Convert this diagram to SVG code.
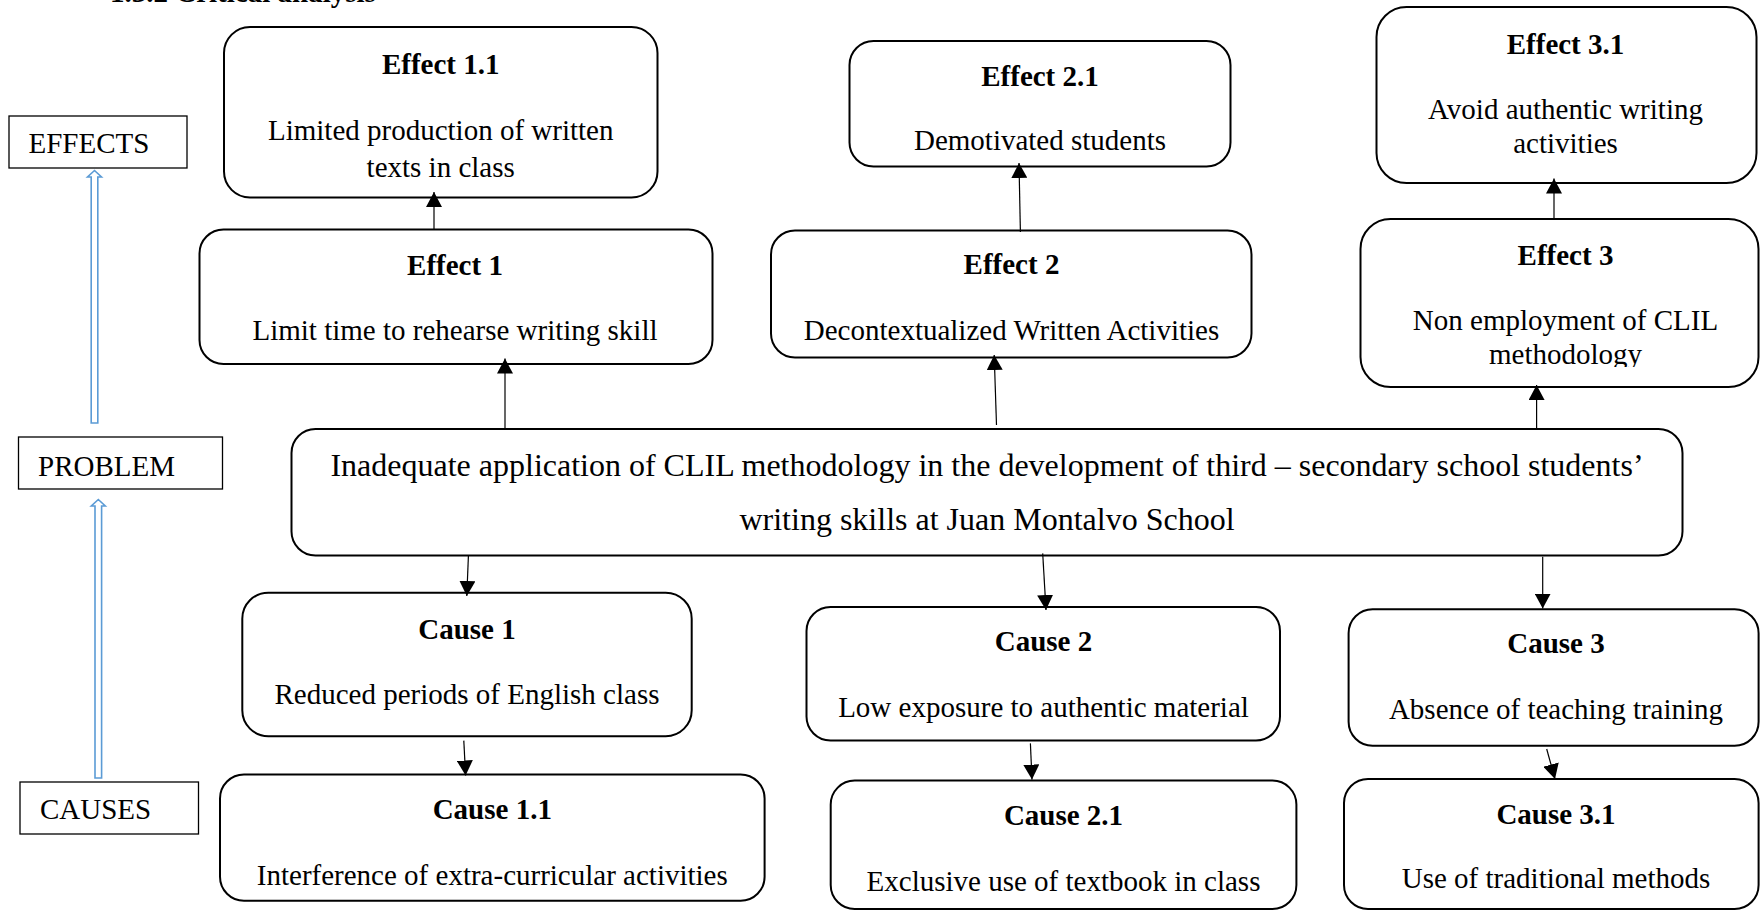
<svg xmlns="http://www.w3.org/2000/svg" width="1760" height="911" viewBox="0 0 1760 911">
<style>
  .box{fill:#fff;stroke:#000;stroke-width:2}
  .lbl{fill:#fff;stroke:#000;stroke-width:1.3}
  .t{font-family:"Liberation Serif","Times New Roman",serif;font-size:29px;fill:#000}
  .b{font-weight:bold;text-anchor:middle}
  .m{text-anchor:middle}
  .p{font-family:"Liberation Serif","Times New Roman",serif;font-size:32px;fill:#000;text-anchor:middle}
  .c{stroke:#000;stroke-width:1.2;fill:none;marker-end:url(#ah)}
  .blue{fill:#fff;stroke:#5B9BD5;stroke-width:1.6}
</style>
<defs>
  <marker id="ah" markerUnits="userSpaceOnUse" markerWidth="16" markerHeight="16" refX="15" refY="8" orient="auto">
    <path d="M0,0 L15,8 L0,16 z" fill="#000"/>
  </marker>
  <clipPath id="clipE3"><rect x="1360" y="219" width="400" height="148"/></clipPath>
</defs>
<rect width="1760" height="911" fill="#fff"/>

<text class="t" x="110" y="2" font-weight="bold" font-size="30">1.3.2 Critical analysis</text>

<g id="label-effects"><rect class="lbl" x="9" y="116" width="178" height="52"/><text class="t" x="28.5" y="153">EFFECTS</text></g>
<g id="label-problem"><rect class="lbl" x="18.5" y="437" width="204" height="52"/><text class="t" x="38" y="475.5">PROBLEM</text></g>
<g id="label-causes"><rect class="lbl" x="20" y="782" width="178.5" height="52"/><text class="t" x="40" y="819">CAUSES</text></g>

<g id="blue-arrows">
  <polygon class="blue" points="91.2,423 91.2,177 87.5,177 94.5,170.5 101.5,177 97.8,177 97.8,423"/>
  <polygon class="blue" points="95,778 95,506 91.3,506 98.3,499.5 105.3,506 101.6,506 101.6,778"/>
</g>

<g id="effect-1-1"><rect class="box" x="224" y="27" width="433.5" height="170.5" rx="26"/>
  <text class="t b" x="440.7" y="74">Effect 1.1</text>
  <text class="t m" x="440.7" y="139.5">Limited production of written</text>
  <text class="t m" x="440.7" y="176.5">texts in class</text></g>

<g id="effect-1"><rect class="box" x="199.5" y="229.5" width="513" height="134.5" rx="24"/>
  <text class="t b" x="455" y="275">Effect 1</text>
  <text class="t m" x="455" y="339.5">Limit time to rehearse writing skill</text></g>

<g id="effect-2-1"><rect class="box" x="849.5" y="41" width="381" height="125.5" rx="24"/>
  <text class="t b" x="1040" y="86">Effect 2.1</text>
  <text class="t m" x="1040" y="150">Demotivated students</text></g>

<g id="effect-2"><rect class="box" x="771" y="230.5" width="480.5" height="127" rx="24"/>
  <text class="t b" x="1011.5" y="274">Effect 2</text>
  <text class="t m" x="1011.5" y="340">Decontextualized Written Activities</text></g>

<g id="effect-3-1"><rect class="box" x="1376.5" y="7" width="380" height="176" rx="30"/>
  <text class="t b" x="1565.5" y="53.5">Effect 3.1</text>
  <text class="t m" x="1565.5" y="118.5">Avoid authentic writing</text>
  <text class="t m" x="1565.5" y="152.5">activities</text></g>

<g id="effect-3"><rect class="box" x="1360.5" y="219" width="398" height="168" rx="30"/>
  <text class="t b" x="1565.5" y="265">Effect 3</text>
  <text class="t m" x="1565.5" y="330">Non employment of CLIL</text>
  <text class="t m" x="1565.5" y="363.5" clip-path="url(#clipE3)">methodology</text></g>

<g id="problem"><rect class="box" x="291.5" y="429" width="1391" height="126.5" rx="24"/>
  <text class="p" x="987" y="475.5">Inadequate application of CLIL methodology in the development of third – secondary school students’</text>
  <text class="p" x="987" y="529.5">writing skills at Juan Montalvo School</text></g>

<g id="cause-1"><rect class="box" x="242.3" y="592.7" width="449.4" height="143.5" rx="26"/>
  <text class="t b" x="467" y="639">Cause 1</text>
  <text class="t m" x="467" y="703.5">Reduced periods of English class</text></g>

<g id="cause-1-1"><rect class="box" x="220" y="774.5" width="544.6" height="126.3" rx="24"/>
  <text class="t b" x="492.3" y="819">Cause 1.1</text>
  <text class="t m" x="492.3" y="884.5">Interference of extra-curricular activities</text></g>

<g id="cause-2"><rect class="box" x="806.5" y="607" width="473.5" height="133.6" rx="24"/>
  <text class="t b" x="1043.5" y="651">Cause 2</text>
  <text class="t m" x="1043.5" y="717">Low exposure to authentic material</text></g>

<g id="cause-2-1"><rect class="box" x="830.7" y="780.6" width="465.7" height="128.5" rx="24"/>
  <text class="t b" x="1063.5" y="825.3">Cause 2.1</text>
  <text class="t m" x="1063.5" y="891.3">Exclusive use of textbook in class</text></g>

<g id="cause-3"><rect class="box" x="1348.6" y="609.3" width="410" height="136.4" rx="24"/>
  <text class="t b" x="1556" y="652.6">Cause 3</text>
  <text class="t m" x="1556" y="718.6">Absence of teaching training</text></g>

<g id="cause-3-1"><rect class="box" x="1344" y="778.9" width="414.6" height="130.2" rx="24"/>
  <text class="t b" x="1556" y="823.6">Cause 3.1</text>
  <text class="t m" x="1556" y="888">Use of traditional methods</text></g>

<g id="connectors">
  <line class="c" x1="434" y1="229" x2="434" y2="192"/>
  <line class="c" x1="505" y1="428" x2="505" y2="358.5"/>
  <line class="c" x1="1020.4" y1="232" x2="1019" y2="163"/>
  <line class="c" x1="996.5" y1="425" x2="994.2" y2="355"/>
  <line class="c" x1="1554" y1="218" x2="1554" y2="178.5"/>
  <line class="c" x1="1536.6" y1="428" x2="1536.6" y2="385"/>
  <line class="c" x1="468.4" y1="556" x2="466.8" y2="596"/>
  <line class="c" x1="463.8" y1="740.6" x2="465.6" y2="775.5"/>
  <line class="c" x1="1042.7" y1="553.4" x2="1046" y2="610"/>
  <line class="c" x1="1030.4" y1="743.4" x2="1032" y2="779.6"/>
  <line class="c" x1="1542.7" y1="556.8" x2="1542.7" y2="608.6"/>
  <line class="c" x1="1546.7" y1="749" x2="1555" y2="779"/>
</g>
</svg>
